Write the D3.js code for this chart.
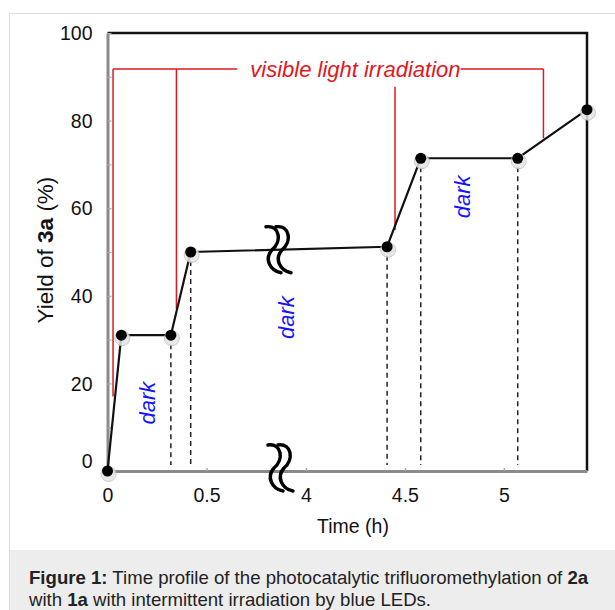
<!DOCTYPE html>
<html>
<head>
<meta charset="utf-8">
<script src="https://cdn.jsdelivr.net/npm/d3@7"></script>
<style>
  body { margin: 0; background: #fff; }
  svg { display: block; font-family: "Liberation Sans", Arial, sans-serif; }
</style>
</head>
<body>
<div class="chart"></div>
<script>
// yield vs time data
var times = [0, 0.07, 0.32, 0.42, 4.41, 4.58, 5.07, 5.42];
var yields = [0, 31, 31, 50, 51.2, 71.4, 71.4, 82.5];
// which points get a dashed drop line (start of a dark period / end)
var dashedIdx = [2, 3, 4, 5, 6];
var xTickValues = [0, 0.5, 4, 4.5, 5];
var xTickLabels = ["0", "0.5", "4", "4.5", "5"];
var yTickValues = [0, 10, 20, 30, 40, 50, 60, 70, 80, 90, 100];
// red "visible light irradiation" bracket
var irrTop = 91.8;
var irrTimes = [0.028, 0.348, 4.45, 5.2];
var irrTops = [91.8, 91.8, 87.7, 91.8];
var irrBottoms = [17, 37, 55, 76];
var irrLabelTime = 4.25;
// "dark" labels
var darkTimes = [0.2, 3.9, 4.79];
var darkYields = [15.5, 35, 62.6];

var svgWidth = 615, svgHeight = 610;
var svg = d3.select(".chart").append("svg")
    .attr("width", svgWidth)
    .attr("height", svgHeight);

// card + caption
svg.append("rect")
    .attr("x", 9.5).attr("y", 13.5)
    .attr("width", 640).attr("height", 620)
    .attr("fill", "#fff").attr("stroke", "#dcdcdc");
svg.append("rect")
    .attr("x", 10).attr("y", 550)
    .attr("width", 605).attr("height", 60)
    .attr("fill", "#ededed");

var cap1 = svg.append("text").attr("x", 29).attr("y", 583.5)
    .style("font-size", "18.6px").attr("fill", "#222");
cap1.append("tspan").style("font-weight", "bold").text("Figure 1:");
cap1.append("tspan").text(" Time profile of the photocatalytic trifluoromethylation of ");
cap1.append("tspan").style("font-weight", "bold").text("2a");
var cap2 = svg.append("text").attr("x", 29).attr("y", 605.5)
    .style("font-size", "18.6px").attr("fill", "#222");
cap2.append("tspan").text("with ");
cap2.append("tspan").style("font-weight", "bold").text("1a");
cap2.append("tspan").text(" with intermittent irradiation by blue LEDs.");

// broken x scale (0 - 0.876 h, then 3.874 - 5.42 h)
var x = d3.scaleLinear()
    .domain([0, 0.876, 3.874, 5.42])
    .range([107.5, 281, 281, 587]);
var y = d3.scaleLinear()
    .domain([0, 100])
    .range([471, 33]);

var chart = svg.append("g");

// top and right frame
chart.append("path")
    .attr("d", "M107.5," + y(100) + "H" + x(5.42) + "V" + y(0))
    .attr("fill", "none").attr("stroke", "#111").attr("stroke-width", 2.5);

// y axis
var leftAxis = d3.axisLeft(y)
    .tickValues(yTickValues)
    .tickSizeInner(-4).tickSizeOuter(0)
    .tickPadding(15)
    .tickFormat(function(d) { return d % 20 === 0 ? d : ""; });
var gy = chart.append("g")
    .attr("transform", "translate(" + x(0) + ",0)")
    .call(leftAxis);
gy.select(".domain").attr("stroke", "#8a8a8a").attr("stroke-width", 3);
gy.selectAll(".tick line").attr("stroke", "#aaa").attr("stroke-width", 1.2);
gy.selectAll(".tick text")
    .style("font-size", "19.5px").style("font-family", "Liberation Sans, Arial, sans-serif")
    .attr("fill", "#111")
    .attr("dy", function(d) { return d === 0 ? "-0.2em" : "0.34em"; });

// x axis
var bottomAxis = d3.axisBottom(x)
    .tickValues(xTickValues)
    .tickSizeInner(-3).tickSizeOuter(0)
    .tickPadding(17)
    .tickFormat(function(d, i) { return xTickLabels[i]; });
var gx = chart.append("g")
    .attr("transform", "translate(0," + y(0) + ")")
    .call(bottomAxis);
gx.select(".domain").attr("stroke", "#8a8a8a").attr("stroke-width", 3);
gx.selectAll(".tick line").attr("stroke", "#aaa").attr("stroke-width", 1.5);
gx.selectAll(".tick text")
    .style("font-size", "19.5px").style("font-family", "Liberation Sans, Arial, sans-serif")
    .attr("fill", "#111");

// axis titles
chart.append("text")
    .attr("x", 353).attr("y", 533)
    .attr("text-anchor", "middle")
    .style("font-size", "19.5px").attr("fill", "#111")
    .text("Time (h)");
var yTitle = chart.append("text")
    .attr("transform", "translate(53,250) rotate(-90)")
    .attr("text-anchor", "middle")
    .style("font-size", "22.5px").attr("fill", "#111");
yTitle.append("tspan").text("Yield of ");
yTitle.append("tspan").style("font-weight", "bold").text("3a");
yTitle.append("tspan").text(" (%)");

// red irradiation bracket
var red = "#e3161e";
var irr = chart.append("g");
irr.selectAll("line.v")
    .data(irrTimes)
    .enter()
    .append("line")
    .attr("class", "v")
    .attr("x1", function(d) { return x(d); })
    .attr("x2", function(d) { return x(d); })
    .attr("y1", function(d, i) { return y(irrTops[i]); })
    .attr("y2", function(d, i) { return y(irrBottoms[i]); })
    .attr("stroke", red).attr("stroke-width", 1.5);
var irrLabel = irr.append("text")
    .attr("x", x(irrLabelTime)).attr("y", y(irrTop) + 8)
    .attr("text-anchor", "middle")
    .style("font-size", "22px").style("font-style", "italic")
    .attr("fill", red)
    .text("visible light irradiation");
var lw = irrLabel.node().getComputedTextLength();
var lx0 = x(irrLabelTime) - lw / 2, lx1 = x(irrLabelTime) + lw / 2;
irr.append("line")
    .attr("x1", x(irrTimes[0])).attr("x2", lx0 - 13)
    .attr("y1", y(irrTop)).attr("y2", y(irrTop))
    .attr("stroke", red).attr("stroke-width", 1.5);
irr.append("line")
    .attr("x1", lx1).attr("x2", x(irrTimes[3]))
    .attr("y1", y(irrTop)).attr("y2", y(irrTop))
    .attr("stroke", red).attr("stroke-width", 1.5);

// dashed drop lines
chart.selectAll("line.drop")
    .data(dashedIdx)
    .enter()
    .append("line")
    .attr("class", "drop")
    .attr("x1", function(i) { return x(times[i]); })
    .attr("x2", function(i) { return x(times[i]); })
    .attr("y1", function(i) { return y(yields[i]) + 9; })
    .attr("y2", y(0) - 6)
    .attr("stroke", "#222").attr("stroke-width", 1.5)
    .attr("stroke-dasharray", "5,4");

// dark labels
chart.selectAll("text.dark")
    .data(darkTimes)
    .enter()
    .append("text")
    .attr("class", "dark")
    .attr("transform", function(d, i) {
        return "translate(" + (x(d) + 8) + "," + y(darkYields[i]) + ") rotate(-90)";
    })
    .attr("text-anchor", "middle")
    .style("font-size", "22px").style("font-style", "italic")
    .attr("fill", "#1414ff")
    .text("dark");

// data line
var pts = times.map(function(t, i) { return [t, yields[i]]; });
var line = d3.line()
    .x(function(d) { return x(d[0]); })
    .y(function(d) { return y(d[1]); });
chart.append("path")
    .datum(pts)
    .attr("d", line)
    .attr("fill", "none")
    .attr("stroke", "#111").attr("stroke-width", 2.2);

// axis break marks
function breakMark(cx, cy) {
    var g = chart.append("g").attr("transform", "translate(" + cx + "," + cy + ")");
    [-5, 5].forEach(function(dx) {
        g.append("path")
            .attr("d", "M" + (dx - 8) + ",-23 C" + (dx + 6) + ",-25 " + (dx + 8) + ",-8 " + (dx - 2) + ",0" +
                " C" + (dx - 10) + ",9 " + (dx - 4) + ",21 " + (dx + 7) + ",23")
            .attr("fill", "none").attr("stroke", "#000").attr("stroke-width", 3.5)
            .attr("stroke-linecap", "round");
    });
}
breakMark(279, y(50.5));
breakMark(281, y(0) - 3);

// points with soft shadow
chart.selectAll("circle.shadow")
    .data(pts)
    .enter()
    .append("circle")
    .attr("class", "shadow")
    .attr("cx", function(d) { return x(d[0]) + 1; })
    .attr("cy", function(d) { return y(d[1]) + 3; })
    .attr("r", 7.5)
    .attr("fill", "#e4e4e4")
    .attr("stroke", "#c4c4c4").attr("stroke-width", 1)
    .style("opacity", 0.85);
chart.selectAll("circle.pt")
    .data(pts)
    .enter()
    .append("circle")
    .attr("class", "pt")
    .attr("cx", function(d) { return x(d[0]); })
    .attr("cy", function(d) { return y(d[1]); })
    .attr("r", 5.5)
    .attr("fill", "#000");
</script>
</body>
</html>
